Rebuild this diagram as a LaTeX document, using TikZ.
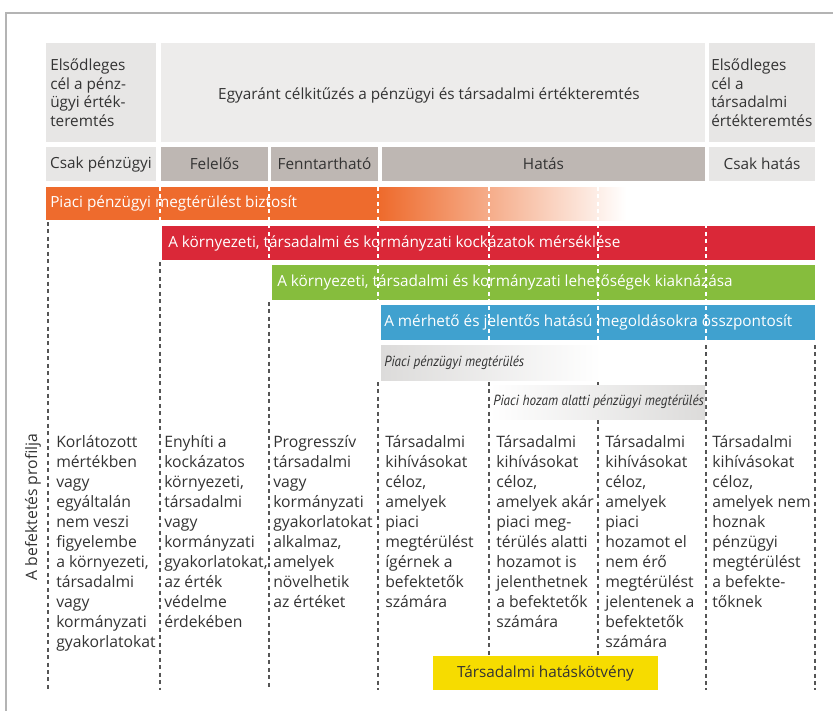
\documentclass[tikz,border=0pt]{standalone}
\usepackage{fontspec}
\setmainfont{Open Sans}
\newfontfamily\narrowfont[FakeStretch=0.9]{PT Sans}
\definecolor{txt}{HTML}{333333}
\definecolor{frame}{HTML}{B4B4B4}
\definecolor{headlight}{HTML}{E7E6E5}
\definecolor{headpale}{HTML}{EDECEB}
\definecolor{headdark}{HTML}{BEB7B3}
\definecolor{barorange}{HTML}{EE6B2D}
\definecolor{barred}{HTML}{DA2838}
\definecolor{bargreen}{HTML}{86BD3D}
\definecolor{barblue}{HTML}{40A1CF}
\definecolor{bargray}{HTML}{DCDBDA}
\definecolor{bondyellow}{HTML}{F6DC00}
\definecolor{gridline}{HTML}{555555}

\begin{document}
\begin{tikzpicture}[x=0.75pt,y=-0.75pt,
    every node/.style={inner sep=0pt, text=txt, font=\fontsize{11.5}{13.9}\selectfont},
    bartext/.style={anchor=west, text=white},
    coltext/.style={anchor=north west, align=left, font=\fontsize{11.8}{15}\selectfont},
    graytext/.style={anchor=west, font=\narrowfont\itshape\fontsize{11}{12}\selectfont},
    gridd/.style={gridline, line width=1.1pt, dash pattern=on 3pt off 2.6pt},
    gridw/.style={white, line width=1.1pt, dash pattern=on 3pt off 2.6pt}]
    \useasboundingbox (0,0) rectangle (833,711);
    % frame
    \draw[frame, line width=1.5pt] (833,13) -- (6,13) -- (6,711);
    % header, first row
    \fill[headlight] (46,43) rectangle (156,142);
    \fill[headpale] (161,43) rectangle (705,142);
    \fill[headlight] (709,43) rectangle (815,142);
    \node[anchor=west, align=left] (aimfin) at (50,92.5) {Elsődleges\\cél a pénz-\\ügyi érték-\\teremtés};
    \node (aimboth) at (429,95) {Egyaránt célkitűzés a pénzügyi és társadalmi értékteremtés};
    \node[anchor=west, align=left] (aimsoc) at (711,92.5) {Elsődleges\\cél a\\társadalmi\\értékteremtés};
    % header, second row
    \fill[headlight] (46,147) rectangle (156,181);
    \fill[headdark] (161,147) rectangle (268,181);
    \fill[headdark] (271,147) rectangle (378,181);
    \fill[headdark] (382,147) rectangle (705,181);
    \fill[headlight] (709,147) rectangle (815,181);
    \node (onlyfin) at (101,164) {Csak pénzügyi};
    \node (resp) at (214.5,164) {Felelős};
    \node (sust) at (324.5,164) {Fenntartható};
    \node (impact) at (543.5,164) {Hatás};
    \node (onlyimp) at (762,164) {Csak hatás};
    % dashed column lines
    \foreach \x/\y in {48/222, 160/262, 269/302, 378/382, 489/382, 598/345, 706/345, 815/345}
        \draw[gridd] (\x,\y) -- (\x,690);
    % bars
    \fill[barorange] (46,187) rectangle (381,220);
    \shade[left color=barorange, right color=white] (380,187) rectangle (626,220);
    \fill[barred] (162,226) rectangle (815,260);
    \fill[bargreen] (272,265) rectangle (815,300);
    \fill[barblue] (381,305) rectangle (815,340);
    \shade[left color=bargray, right color=white] (381,345) rectangle (601,380);
    \shade[left color=white, right color=bargray] (490,385) rectangle (705,419);
    \begin{scope}
        \clip (46,187) rectangle (626,220) (162,226) rectangle (815,260)
              (272,265) rectangle (815,300) (381,305) rectangle (815,340);
        \foreach \x in {160,269,378,489,598,706}
            \draw[gridw] (\x,187) -- (\x,340);
    \end{scope}
    \node[bartext] (finret) at (50,203.5) {Piaci pénzügyi megtérülést biztosít};
    \node[bartext] (risk) at (168,243) {A környezeti, társadalmi és kormányzati kockázatok mérséklése};
    \node[bartext] (opport) at (277,282.5) {A környezeti, társadalmi és kormányzati lehetőségek kiaknázása};
    \node[bartext] (focus) at (384,322.5) {A mérhető és jelentős hatású megoldásokra összpontosít};
    \node[graytext] (mktret) at (384,362.5) {Piaci pénzügyi megtérülés};
    \node[graytext] (belowret) at (493,402) {Piaci hozam alatti pénzügyi megtérülés};
    % side label
    \node[rotate=90, font=\fontsize{11.8}{14}\selectfont] (profile) at (33,507) {A befektetés profilja};
    % column texts
    \node[coltext] (col1) at (56,435) {Korlátozott\\mértékben\\vagy\\egyáltalán\\nem veszi\\figyelembe\\a környezeti,\\társadalmi\\vagy\\kormányzati\\gyakorlatokat};
    \node[coltext] (col2) at (164,435) {Enyhíti a\\kockázatos\\környezeti,\\társadalmi\\vagy\\kormányzati\\gyakorlatokat,\\az érték\\védelme\\érdekében};
    \node[coltext] (col3) at (273,435) {Progresszív\\társadalmi\\vagy\\kormányzati\\gyakorlatokat\\alkalmaz,\\amelyek\\növelhetik\\az értéket};
    \node[coltext] (col4) at (385,435) {Társadalmi\\kihívásokat\\céloz,\\amelyek\\piaci\\megtérülést\\ígérnek a\\befektetők\\számára};
    \node[coltext] (col5) at (496,435) {Társadalmi\\kihívásokat\\céloz,\\amelyek akár\\piaci meg-\\térülés alatti\\hozamot is\\jelenthetnek\\a befektetők\\számára};
    \node[coltext] (col6) at (605,435) {Társadalmi\\kihívásokat\\céloz,\\amelyek\\piaci\\hozamot el\\nem érő\\megtérülést\\jelentenek a\\befektetők\\számára};
    \node[coltext] (col7) at (712,435) {Társadalmi\\kihívásokat\\céloz,\\amelyek nem\\hoznak\\pénzügyi\\megtérülést\\a befekte-\\tőknek};
    % social impact bond
    \fill[bondyellow] (433,656) rectangle (658,690);
    \node (bond) at (545.5,673) {Társadalmi hatáskötvény};
\end{tikzpicture}
\end{document}
